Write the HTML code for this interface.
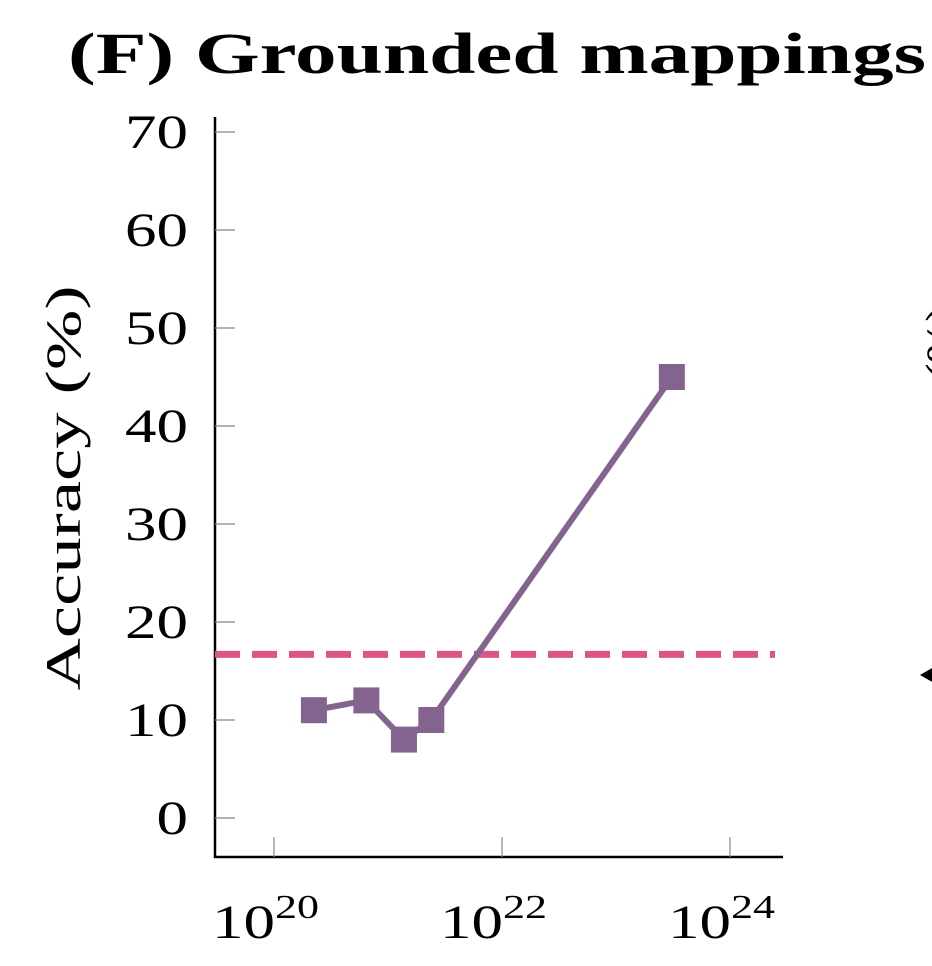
<!DOCTYPE html>
<html><head><meta charset="utf-8"><style>
html,body{margin:0;padding:0;background:#fff;}
svg{display:block;font-family:"Liberation Serif",serif;}
</style></head><body>
<svg width="932" height="966" viewBox="0 0 932 966">
<text x="68" y="73" font-size="58" font-weight="bold" textLength="858" lengthAdjust="spacingAndGlyphs">(F) Grounded mappings</text>
<text transform="translate(80,488) rotate(-90)" text-anchor="middle" font-size="50" textLength="405" lengthAdjust="spacingAndGlyphs">Accuracy (%)</text>
<text transform="translate(960,380) rotate(-90)" text-anchor="start" font-size="50">(%)</text>
<polygon points="920,675 934,667 934,683" fill="#000"/>
<g id="axes"></g>
<g id="marks"></g>
</svg>
<script>
const yTicks=[0,10,20,30,40,50,60,70];
const xTickExps=[20,22,24];
const xExps=[20.35,20.81,21.14,21.38,23.49];
const accuracy=[11,12,8,10,45];
const baseline=[16.7];
const NS="http://www.w3.org/2000/svg";
function X(e){return 274+(e-20)*114;}
function Y(v){return 818-v*9.8;}
function mk(t,a,p){const e=document.createElementNS(NS,t);for(const k in a)e.setAttribute(k,a[k]);p.appendChild(e);return e;}
const ax=document.getElementById('axes'),mg=document.getElementById('marks');
const yl=mk('line',{x1:215,y1:117,x2:215,y2:858,stroke:'#000','stroke-width':2.5},ax);


const xl=mk('line',{x1:214,y1:857,x2:783,y2:857,stroke:'#000','stroke-width':2.5},ax);


yTicks.forEach(v=>{
 const t=mk('line',{x1:215,y1:Y(v),x2:235,y2:Y(v),stroke:'#888','stroke-width':1.2},ax);
 
 
 const s=String(v);
 const l=mk('text',{x:188,y:Y(v)+16,'text-anchor':'end','font-size':48,textLength:s.length*31.5,lengthAdjust:'spacingAndGlyphs'},ax);
 l.textContent=s;
 
 
});
xTickExps.forEach(e=>{
 const t=mk('line',{x1:X(e),y1:857,x2:X(e),y2:837,stroke:'#888','stroke-width':1.2},ax);
 
 
 const l=mk('text',{x:X(e)-62,y:938,'font-size':48},ax);
 const b=mk('tspan',{textLength:63,lengthAdjust:'spacingAndGlyphs'},l);b.textContent='10';
 const s=mk('tspan',{dy:-20,'font-size':34,textLength:44,lengthAdjust:'spacingAndGlyphs'},l);s.textContent=e;
 
 
});
const d=mk('line',{x1:215,y1:Y(baseline[0]),x2:775,y2:Y(baseline[0]),stroke:'#dd5588','stroke-width':7,'stroke-dasharray':'25 12'},mg);


const pl=mk('polyline',{points:xExps.map((e,i)=>X(e)+','+Y(accuracy[i])).join(' '),fill:'none',stroke:'#84648f','stroke-width':6},mg);


xExps.forEach((e,i)=>{
 const r=mk('rect',{x:X(e)-13,y:Y(accuracy[i])-13,width:26,height:26,fill:'#84648f'},mg);
 
 
});
</script>
</body></html>
